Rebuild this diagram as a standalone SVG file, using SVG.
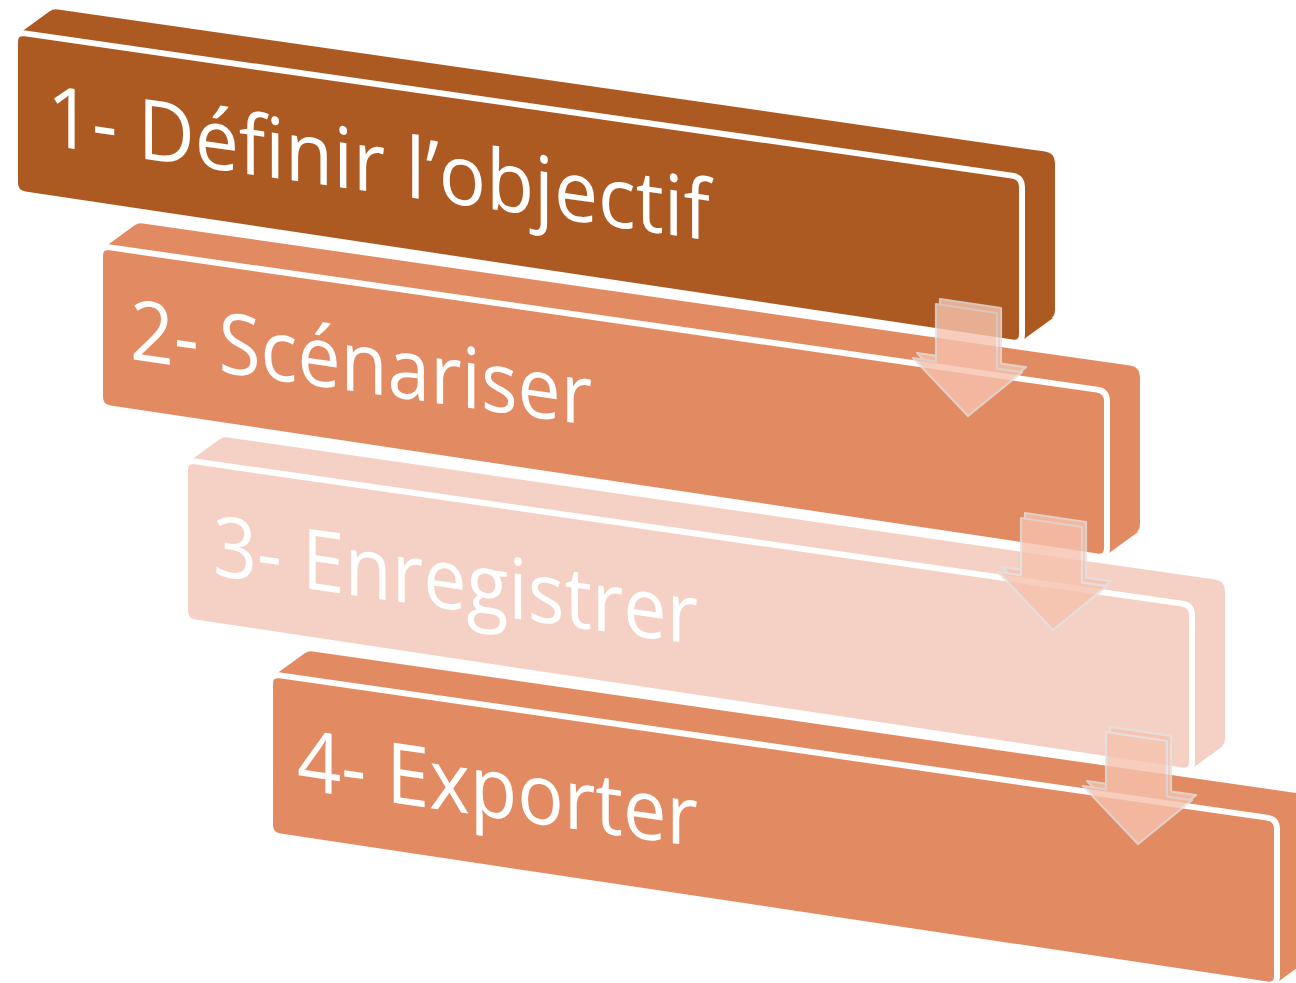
<svg xmlns="http://www.w3.org/2000/svg" width="1296" height="983" viewBox="0 0 1296 983">
  <style>
    .lbl { font-family: "Open Sans", "Noto Sans", "Liberation Sans", sans-serif; font-size: 84px; fill: #ffffff; }
    .face { stroke: #ffffff; stroke-width: 6; stroke-linejoin: round; }
    .arrow { fill: #f6c3ae; stroke: #e2e2e2; stroke-width: 2.2; stroke-linejoin: round; }
  </style>
  <defs>
    <path id="front" d="M15,42 Q15,32 25,33.4 L1012,175.6 Q1022,177 1022,187 L1022,334 Q1022,344 1012,342.5 L25,194.5 Q15,193 15,183 Z"/>
    <polygon id="hull" points="17,35 50,11 1053,318 1020,342"/>
    <g id="slabBody">
      <use href="#front" transform="translate(33,-24)"/>
      <use href="#hull"/>
    </g>
    <g id="arrowShape">
      <polygon points="940,299 1001,308 1001,363.6 1026,367.2 972,411 917,353 940,356.3"/>
      <polygon points="936,304 997,313 997,368.6 1022,372.2 968,416 913,358 936,361.3"/>
    </g>
  </defs>

  <g id="node1">
    <use href="#slabBody" fill="#ad5a22"/>
    <use href="#front" class="face" fill="#ad5a22"/>
    <text class="lbl" transform="translate(47,145) skewY(8.2)" textLength="663" lengthAdjust="spacingAndGlyphs">1- Définir l’objectif</text>
  </g>

  <g id="node2">
    <g transform="translate(85,214)">
      <use href="#slabBody" fill="#e28b62"/>
      <use href="#front" class="face" fill="#e28b62"/>
    </g>
    <text class="lbl" transform="translate(130,359) skewY(8.2)" textLength="462" lengthAdjust="spacingAndGlyphs">2- Scénariser</text>
  </g>

  <g id="node3">
    <g transform="translate(170,428)">
      <use href="#slabBody" fill="#f5d1c5"/>
      <use href="#front" class="face" fill="#f5d1c5"/>
    </g>
    <text class="lbl" transform="translate(213,575) skewY(8.2)" textLength="485" lengthAdjust="spacingAndGlyphs">3- Enregistrer</text>
  </g>

  <g id="node4">
    <g transform="translate(255,642)">
      <use href="#slabBody" fill="#e28b62"/>
      <use href="#front" class="face" fill="#e28b62"/>
    </g>
    <text class="lbl" transform="translate(297,789) skewY(8.2)" textLength="401" lengthAdjust="spacingAndGlyphs">4- Exporter</text>
  </g>

  <g id="connectors">
    <g class="arrow" opacity="0.8"><use href="#arrowShape"/></g>
    <g class="arrow" opacity="0.8" transform="translate(85,214)"><use href="#arrowShape"/></g>
    <g class="arrow" opacity="0.8" transform="translate(170,428)"><use href="#arrowShape"/></g>
  </g>
</svg>
